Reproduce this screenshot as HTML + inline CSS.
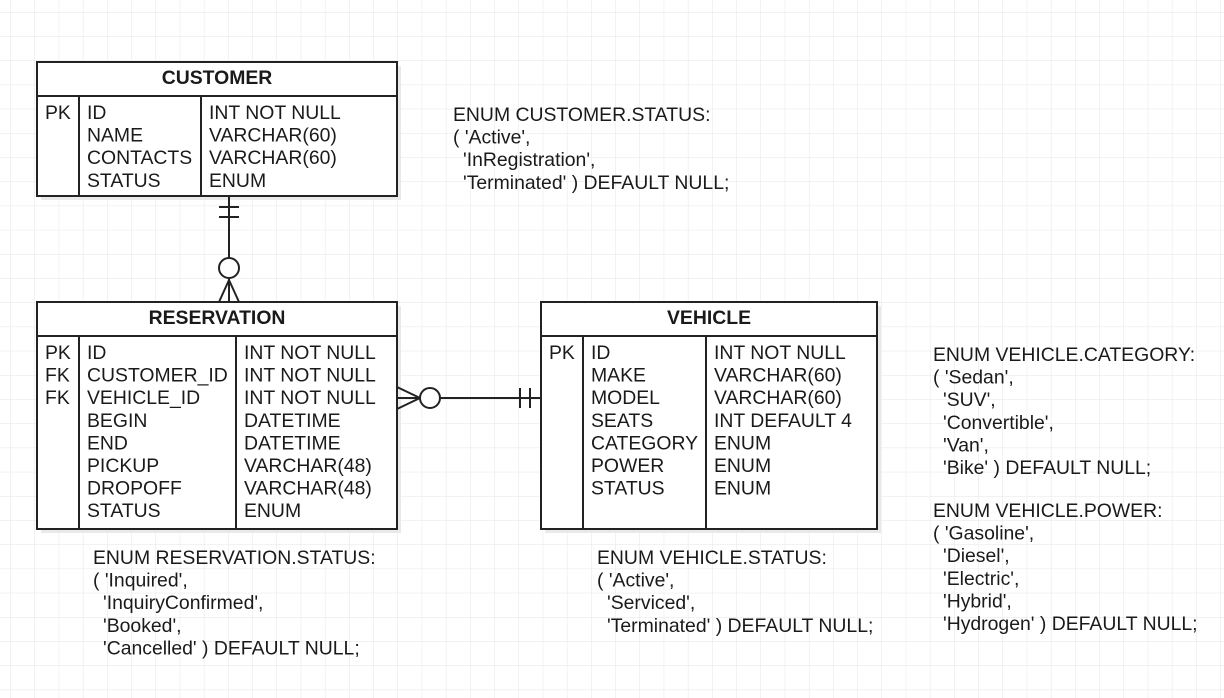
<!DOCTYPE html>
<html><head><meta charset="utf-8"><style>
html,body{margin:0;padding:0;background:#fff;}
svg{display:block;}
text{font-family:"Liberation Sans",Arial,sans-serif;font-size:19.4px;fill:#1a1a1a;white-space:pre;}
.b{font-weight:bold;font-size:19.4px;}
</style></head><body>
<svg width="1224" height="698" viewBox="0 0 1224 698" xmlns="http://www.w3.org/2000/svg">
<defs>
<pattern id="g" x="10.3" y="12" width="24.2" height="24.2" patternUnits="userSpaceOnUse">
<path d="M0 0 H24.2 M0 0 V24.2" stroke="#e6e6e6" stroke-width="1" fill="none"/>
</pattern>
</defs>
<rect width="1224" height="698" fill="url(#g)"/>
<rect x="41" y="66" width="360" height="134" fill="#e9e9e9"/>
<rect x="41" y="306" width="360" height="227" fill="#e9e9e9"/>
<rect x="545" y="306" width="336" height="227" fill="#e9e9e9"/>
<g stroke="#222" stroke-width="2" fill="#fff">
<rect x="37" y="62" width="360" height="134"/>
<line x1="37" y1="96" x2="397" y2="96"/>
<line x1="79" y1="96" x2="79" y2="196"/>
<line x1="201" y1="96" x2="201" y2="196"/>
<rect x="37" y="302" width="360" height="227"/>
<line x1="37" y1="336" x2="397" y2="336"/>
<line x1="79" y1="336" x2="79" y2="529"/>
<line x1="236" y1="336" x2="236" y2="529"/>
<rect x="541" y="302" width="336" height="227"/>
<line x1="541" y1="336" x2="877" y2="336"/>
<line x1="583" y1="336" x2="583" y2="529"/>
<line x1="706" y1="336" x2="706" y2="529"/>
<line x1="229" y1="196" x2="229" y2="258"/>
<line x1="219" y1="207" x2="239" y2="207"/>
<line x1="219" y1="217" x2="239" y2="217"/>
<circle cx="229" cy="268" r="10"/>
<line x1="229" y1="278" x2="229" y2="302"/>
<line x1="229" y1="280" x2="219" y2="302"/>
<line x1="229" y1="280" x2="239" y2="302"/>
<line x1="397" y1="398" x2="420" y2="398"/>
<line x1="397" y1="387" x2="420" y2="398"/>
<line x1="397" y1="409" x2="420" y2="398"/>
<circle cx="430" cy="398" r="10"/>
<line x1="440" y1="398" x2="541" y2="398"/>
<line x1="520" y1="388" x2="520" y2="408"/>
<line x1="530" y1="388" x2="530" y2="408"/>
</g>
<text class="b" x="217" y="84" text-anchor="middle">CUSTOMER</text>
<text x="45" y="119">PK</text>
<text x="87" y="119">ID</text><text x="87" y="141.6">NAME</text><text x="87" y="164.2">CONTACTS</text><text x="87" y="186.8">STATUS</text>
<text x="209" y="119">INT NOT NULL</text><text x="209" y="141.6">VARCHAR(60)</text><text x="209" y="164.2">VARCHAR(60)</text><text x="209" y="186.8">ENUM</text>

<text class="b" x="217" y="324" text-anchor="middle">RESERVATION</text>
<text x="45" y="359">PK</text><text x="45" y="381.6">FK</text><text x="45" y="404.2">FK</text>
<text x="87" y="359">ID</text><text x="87" y="381.6">CUSTOMER_ID</text><text x="87" y="404.2">VEHICLE_ID</text><text x="87" y="426.8">BEGIN</text><text x="87" y="449.4">END</text><text x="87" y="472">PICKUP</text><text x="87" y="494.6">DROPOFF</text><text x="87" y="517.2">STATUS</text>
<text x="244" y="359">INT NOT NULL</text><text x="244" y="381.6">INT NOT NULL</text><text x="244" y="404.2">INT NOT NULL</text><text x="244" y="426.8">DATETIME</text><text x="244" y="449.4">DATETIME</text><text x="244" y="472">VARCHAR(48)</text><text x="244" y="494.6">VARCHAR(48)</text><text x="244" y="517.2">ENUM</text>

<text class="b" x="709" y="324" text-anchor="middle">VEHICLE</text>
<text x="549" y="359">PK</text>
<text x="591" y="359">ID</text><text x="591" y="381.6">MAKE</text><text x="591" y="404.2">MODEL</text><text x="591" y="426.8">SEATS</text><text x="591" y="449.4">CATEGORY</text><text x="591" y="472">POWER</text><text x="591" y="494.6">STATUS</text>
<text x="714" y="359">INT NOT NULL</text><text x="714" y="381.6">VARCHAR(60)</text><text x="714" y="404.2">VARCHAR(60)</text><text x="714" y="426.8">INT DEFAULT 4</text><text x="714" y="449.4">ENUM</text><text x="714" y="472">ENUM</text><text x="714" y="494.6">ENUM</text>

<text x="453" y="121">ENUM CUSTOMER.STATUS:</text>
<text x="453" y="143.6">( 'Active',</text>
<text x="463" y="166.2">'InRegistration',</text>
<text x="463" y="188.8">'Terminated' ) DEFAULT NULL;</text>

<text x="93" y="564">ENUM RESERVATION.STATUS:</text>
<text x="93" y="586.6">( 'Inquired',</text>
<text x="103" y="609.2">'InquiryConfirmed',</text>
<text x="103" y="631.8">'Booked',</text>
<text x="103" y="654.4">'Cancelled' ) DEFAULT NULL;</text>

<text x="597" y="564">ENUM VEHICLE.STATUS:</text>
<text x="597" y="586.6">( 'Active',</text>
<text x="607" y="609.2">'Serviced',</text>
<text x="607" y="631.8">'Terminated' ) DEFAULT NULL;</text>

<text x="933" y="361">ENUM VEHICLE.CATEGORY:</text>
<text x="933" y="383.6">( 'Sedan',</text>
<text x="943" y="406.2">'SUV',</text>
<text x="943" y="428.8">'Convertible',</text>
<text x="943" y="451.4">'Van',</text>
<text x="943" y="474">'Bike' ) DEFAULT NULL;</text>

<text x="933" y="517">ENUM VEHICLE.POWER:</text>
<text x="933" y="539.6">( 'Gasoline',</text>
<text x="943" y="562.2">'Diesel',</text>
<text x="943" y="584.8">'Electric',</text>
<text x="943" y="607.4">'Hybrid',</text>
<text x="943" y="630">'Hydrogen' ) DEFAULT NULL;</text>
</svg>
</body></html>
